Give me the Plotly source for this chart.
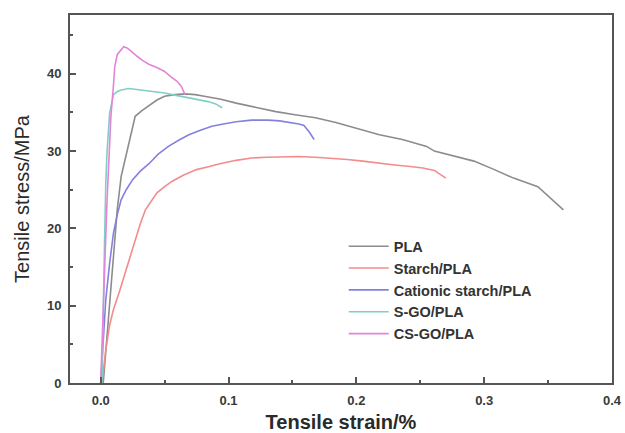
import plotly.graph_objects as go

# Tensile strain (%) and stress (MPa)
pla_x = [0.002, 0.006, 0.010, 0.013, 0.016, 0.022, 0.027, 0.032, 0.038, 0.044, 0.050, 0.058, 0.066, 0.074, 0.081,
         0.094, 0.106, 0.120, 0.137, 0.152, 0.168, 0.184, 0.199, 0.210, 0.218, 0.236, 0.250, 0.255, 0.261,
         0.277, 0.292, 0.308, 0.323, 0.342, 0.351, 0.362]
pla_y = [0.0, 8.0, 17.0, 22.5, 26.7, 31.0, 34.5, 35.2, 35.9, 36.6, 37.1, 37.3, 37.4, 37.3, 37.1,
         36.7, 36.2, 35.7, 35.1, 34.7, 34.3, 33.7, 33.0, 32.5, 32.1, 31.5, 30.9, 30.6, 30.0,
         29.3, 28.7, 27.6, 26.5, 25.4, 24.1, 22.4]

starch_x = [0.001, 0.004, 0.007, 0.010, 0.015, 0.019, 0.023, 0.027, 0.031, 0.035, 0.040, 0.044, 0.050, 0.056,
            0.065, 0.075, 0.085, 0.094, 0.106, 0.118, 0.130, 0.143, 0.155, 0.168, 0.180, 0.193, 0.205,
            0.218, 0.230, 0.242, 0.252, 0.261, 0.266, 0.270]
starch_y = [0.0, 4.3, 7.5, 9.5, 12.0, 14.2, 16.4, 18.5, 20.6, 22.4, 23.7, 24.6, 25.4, 26.1,
            26.9, 27.6, 28.0, 28.4, 28.8, 29.1, 29.2, 29.3, 29.3, 29.2, 29.1, 28.9, 28.7,
            28.4, 28.2, 28.0, 27.8, 27.5, 27.0, 26.5]

cat_x = [0.000, 0.002, 0.004, 0.007, 0.010, 0.013, 0.016, 0.020, 0.025, 0.031, 0.038, 0.045, 0.053, 0.061,
         0.069, 0.078, 0.087, 0.096, 0.106, 0.118, 0.131, 0.140, 0.149, 0.155, 0.159, 0.163, 0.167]
cat_y = [0.0, 5.0, 10.8, 15.5, 19.4, 21.8, 23.7, 25.0, 26.3, 27.4, 28.4, 29.6, 30.6, 31.4,
         32.1, 32.7, 33.2, 33.5, 33.8, 34.0, 34.0, 33.9, 33.7, 33.5, 33.3, 32.5, 31.5]

sgo_x = [0.001, 0.002, 0.003, 0.004, 0.005, 0.007, 0.010, 0.013, 0.016, 0.022, 0.027, 0.032, 0.038, 0.044,
         0.050, 0.056, 0.062, 0.069, 0.076, 0.084, 0.090, 0.095]
sgo_y = [0.0, 10.8, 18.0, 25.9, 30.0, 34.9, 37.3, 37.7, 37.9, 38.1, 38.0, 37.9, 37.8, 37.7,
         37.5, 37.3, 37.1, 36.9, 36.7, 36.4, 36.1, 35.6]

csgo_x = [0.000, 0.002, 0.004, 0.005, 0.007, 0.008, 0.010, 0.011, 0.013, 0.016, 0.018, 0.021, 0.025, 0.029,
          0.033, 0.038, 0.044, 0.050, 0.055, 0.060, 0.063, 0.066]
csgo_y = [0.0, 10.8, 19.0, 23.7, 30.0, 34.5, 38.5, 40.9, 42.5, 43.2, 43.5, 43.3, 42.7, 42.2,
          41.7, 41.2, 40.8, 40.3, 39.6, 39.0, 38.4, 37.3]

series = [
    ("PLA", pla_x, pla_y, "#8c8c8c"),
    ("Starch/PLA", starch_x, starch_y, "#f38b8d"),
    ("Cationic starch/PLA", cat_x, cat_y, "#8580dc"),
    ("S-GO/PLA", sgo_x, sgo_y, "#80cfc4"),
    ("CS-GO/PLA", csgo_x, csgo_y, "#e484d8"),
]

x_ticks = [0.0, 0.1, 0.2, 0.3, 0.4]
x_tick_labels = ["0.0", "0.1", "0.2", "0.3", "0.4"]
y_ticks = [0, 10, 20, 30, 40]
y_tick_labels = ["0", "10", "20", "30", "40"]

fig = go.Figure()
for name, xs, ys, col in series:
    fig.add_trace(go.Scatter(x=xs, y=ys, mode="lines", name=name,
                             line=dict(color=col, width=1.6)))

axis_common = dict(
    showgrid=False, zeroline=False, showline=True, linecolor="#555555", linewidth=2,
    mirror=True, ticks="inside", ticklen=6, tickwidth=1.5, tickcolor="#555555",
    automargin=False,
    tickfont=dict(family="Liberation Sans, Arial", size=13, color="#3a3a3a", weight="bold"),
)

fig.update_xaxes(range=[-0.024, 0.4], tickvals=x_ticks, ticktext=x_tick_labels,
                 ticklabelstandoff=4,
                 minor=dict(dtick=0.05, ticks="inside", ticklen=3, tickcolor="#555555", tickwidth=1.5),
                 title=dict(text="Tensile strain/%", standoff=9,
                            font=dict(family="Liberation Sans, Arial", size=20, color="#2a2a2a", weight="bold")),
                 **axis_common)
fig.update_yaxes(range=[0, 47.6], tickvals=y_ticks, ticktext=y_tick_labels,
                 ticklabelstandoff=4,
                 minor=dict(dtick=5, ticks="inside", ticklen=3, tickcolor="#555555", tickwidth=1.5),
                 title=dict(text="Tensile stress/MPa", standoff=12,
                            font=dict(family="Liberation Sans, Arial", size=20, color="#2a2a2a")),
                 **axis_common)

fig.update_layout(
    width=625, height=433,
    margin=dict(l=70, r=13, t=15, b=50),
    paper_bgcolor="white", plot_bgcolor="white",
    legend=dict(x=0.505, y=0.415, xanchor="left", yanchor="top", itemwidth=40,
                bgcolor="rgba(0,0,0,0)", tracegroupgap=0,
                font=dict(family="Liberation Sans, Arial", size=14.5, color="#333333", weight="bold")),
)

fig.write_html("out.html")
